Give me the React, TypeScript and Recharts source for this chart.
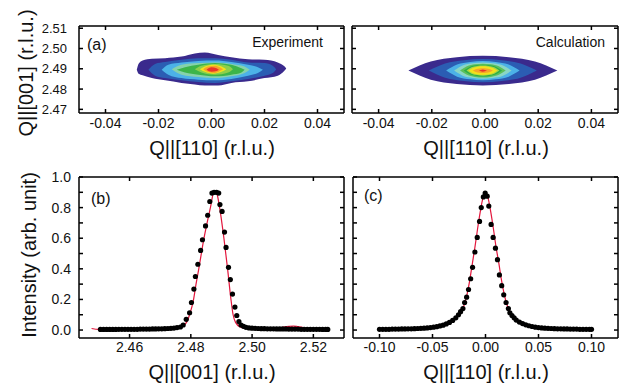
import React from "react";
import { ComposedChart, XAxis, YAxis, Area, Line, Scatter } from "recharts";

const FONT = "'Liberation Sans', Arial, Helvetica, sans-serif";
const RED = "#e3173d";

// ---- tick values ----
const MAP_Q_TICKS = [-0.04, -0.02, 0, 0.02, 0.04];
const MAP_Z_TICKS = [2.47, 2.48, 2.49, 2.5, 2.51];
const B_Q_TICKS = [2.46, 2.48, 2.5, 2.52];
const C_Q_TICKS = [-0.1, -0.05, 0, 0.05, 0.1];
const I_TICKS = [0, 0.1, 0.2, 0.3, 0.4, 0.5, 0.6, 0.7, 0.8, 0.9, 1.0];

// ---- contour levels, experiment: [q, zLow, zHigh] ----
const expL1 = [
  [-0.0282, 2.4895, 2.4895], [-0.0275, 2.4875, 2.4925], [-0.026, 2.4868, 2.4941],
  [-0.0225, 2.4854, 2.4949], [-0.0175, 2.4843, 2.4952], [-0.0113, 2.483, 2.496],
  [-0.0063, 2.4822, 2.4976], [-0.0025, 2.4817, 2.498], [0.0025, 2.4817, 2.4968],
  [0.0075, 2.483, 2.4957], [0.0138, 2.4838, 2.4947], [0.02, 2.4854, 2.4944],
  [0.025, 2.4866, 2.4931], [0.0275, 2.489, 2.4912], [0.0282, 2.4902, 2.4902],
];
const expL2 = [
  [-0.0238, 2.4895, 2.4895], [-0.0213, 2.4866, 2.4924], [-0.0175, 2.4854, 2.4933],
  [-0.0113, 2.4843, 2.4944], [-0.005, 2.4835, 2.4952], [0.0013, 2.483, 2.4952],
  [0.0075, 2.4838, 2.4944], [0.0138, 2.485, 2.4931], [0.02, 2.4866, 2.4928],
  [0.0231, 2.4879, 2.4915], [0.0244, 2.4897, 2.4897],
];
const expL3 = [
  [-0.0188, 2.4895, 2.4895], [-0.0163, 2.4871, 2.492], [-0.0113, 2.4854, 2.4931],
  [-0.005, 2.4846, 2.4939], [0.0013, 2.4843, 2.4941], [0.0075, 2.485, 2.4934],
  [0.0138, 2.4866, 2.492], [0.0175, 2.4879, 2.4908], [0.0194, 2.4895, 2.4895],
];
const expL4 = [
  [-0.015, 2.4898, 2.4898], [-0.0113, 2.4871, 2.492], [-0.005, 2.4859, 2.4928],
  [0.0013, 2.4854, 2.4931], [0.0075, 2.4863, 2.4924], [0.0125, 2.4879, 2.4911],
  [0.0144, 2.4895, 2.4895],
];
const expL5 = [
  [-0.0131, 2.4895, 2.4895], [-0.01, 2.4882, 2.4908], [-0.005, 2.4871, 2.492],
  [0.0013, 2.4863, 2.4928], [0.0075, 2.4871, 2.492], [0.0113, 2.4882, 2.4903],
  [0.0125, 2.4895, 2.4895],
];
const expL6 = [
  [-0.0063, 2.4898, 2.4898], [-0.0038, 2.4882, 2.4915], [0.0013, 2.4871, 2.4924],
  [0.0063, 2.4882, 2.4915], [0.0081, 2.4898, 2.4898],
];
const expL7 = [
  [-0.0044, 2.4898, 2.4898], [-0.0025, 2.4885, 2.4911], [0.0006, 2.4876, 2.492],
  [0.0038, 2.4885, 2.4911], [0.0056, 2.4898, 2.4898],
];
const expL8 = [
  [-0.0031, 2.4898, 2.4898], [-0.0013, 2.4884, 2.4911], [0.0013, 2.4879, 2.4915],
  [0.0031, 2.4889, 2.4908], [0.0044, 2.4898, 2.4898],
];
const expL9 = [
  [-0.0019, 2.4895, 2.4895], [0, 2.4885, 2.4907], [0.0019, 2.4889, 2.4903],
  [0.0028, 2.4895, 2.4895],
];

// ---- contour levels, calculation ----
const calcL1 = [
  [-0.0288, 2.4891, 2.4891], [-0.0204, 2.4846, 2.4936], [-0.0106, 2.4825, 2.4957],
  [-0.0008, 2.4818, 2.4964], [0.009, 2.4825, 2.4957], [0.0188, 2.4846, 2.4936],
  [0.0272, 2.4891, 2.4891],
];
const calcL2 = [
  [-0.0211, 2.4891, 2.4891], [-0.015, 2.4856, 2.4926], [-0.0079, 2.484, 2.4942],
  [-0.0008, 2.4834, 2.4948], [0.0063, 2.484, 2.4942], [0.0134, 2.4856, 2.4926],
  [0.0195, 2.4891, 2.4891],
];
const calcL3 = [
  [-0.0146, 2.4891, 2.4891], [-0.0105, 2.4861, 2.4921], [-0.0056, 2.4848, 2.4934],
  [-0.0008, 2.4843, 2.4939], [0.004, 2.4848, 2.4934], [0.0089, 2.4861, 2.4921],
  [0.013, 2.4891, 2.4891],
];
const calcL4 = [
  [-0.0116, 2.4891, 2.4891], [-0.0084, 2.4866, 2.4916], [-0.0046, 2.4855, 2.4927],
  [-0.0008, 2.4851, 2.4931], [0.003, 2.4855, 2.4927], [0.0068, 2.4866, 2.4916],
  [0.01, 2.4891, 2.4891],
];
const calcL5 = [
  [-0.0094, 2.4891, 2.4891], [-0.0068, 2.487, 2.4912], [-0.0038, 2.486, 2.4922],
  [-0.0008, 2.4857, 2.4925], [0.0022, 2.486, 2.4922], [0.0052, 2.487, 2.4912],
  [0.0078, 2.4891, 2.4891],
];
const calcL6 = [
  [-0.008, 2.4891, 2.4891], [-0.0058, 2.4873, 2.4909], [-0.0033, 2.4865, 2.4917],
  [-0.0008, 2.4862, 2.492], [0.0017, 2.4865, 2.4917], [0.0042, 2.4873, 2.4909],
  [0.0064, 2.4891, 2.4891],
];
const calcL7 = [
  [-0.007, 2.4891, 2.4891], [-0.0051, 2.4876, 2.4907], [-0.003, 2.4869, 2.4914],
  [-0.0008, 2.4866, 2.4916], [0.0014, 2.4869, 2.4914], [0.0035, 2.4876, 2.4907],
  [0.0054, 2.4891, 2.4891],
];
const calcL8 = [
  [-0.0062, 2.4891, 2.4891], [-0.0046, 2.4878, 2.4904], [-0.0027, 2.4872, 2.491],
  [-0.0008, 2.487, 2.4912], [0.0011, 2.4872, 2.491], [0.003, 2.4878, 2.4904],
  [0.0046, 2.4891, 2.4891],
];
const calcL9 = [
  [-0.0046, 2.4891, 2.4891], [-0.0035, 2.4884, 2.4898], [-0.0021, 2.488, 2.4902],
  [-0.0008, 2.4879, 2.4903], [0.0005, 2.488, 2.4902], [0.0019, 2.4884, 2.4898],
  [0.003, 2.4891, 2.4891],
];
const calcL10 = [
  [-0.0024, 2.4891, 2.4891], [-0.0016, 2.4888, 2.4894], [-0.0008, 2.4886, 2.4896],
  [0, 2.4888, 2.4894], [0.0008, 2.4891, 2.4891],
];

const EXP_LEVELS = [expL1, expL2, expL3, expL4, expL5, expL6, expL7, expL8, expL9];
const EXP_COLORS = ["#3a2a8d", "#2b5db3", "#4cb2e7", "#86d2ab", "#3cb54a", "#8dcf4a", "#f3e11b", "#f5a32a", "#e8362a"];
const CALC_LEVELS = [calcL1, calcL2, calcL3, calcL4, calcL5, calcL6, calcL7, calcL8, calcL9, calcL10];
const CALC_COLORS = ["#3a2a8d", "#2b5db3", "#4cb2e7", "#8ad6c4", "#5cc05a", "#2aae48", "#a6d544", "#f3e11b", "#f5a52a", "#e8362a"];

// ---- (b) line scan along [001]: [q, intensity] ----
const B_DOTS = [
  [2.4505, 0.004], [2.4515, 0.004], [2.4525, 0.004], [2.4535, 0.004], [2.4545, 0.004],
  [2.4555, 0.004], [2.4565, 0.005], [2.4575, 0.005], [2.4585, 0.005], [2.4595, 0.005],
  [2.4605, 0.005], [2.4615, 0.005], [2.4625, 0.005], [2.4635, 0.006], [2.4645, 0.006],
  [2.4655, 0.006], [2.4665, 0.006], [2.4675, 0.007], [2.4685, 0.007], [2.4695, 0.008],
  [2.4705, 0.008], [2.4715, 0.009], [2.4725, 0.01], [2.4735, 0.011], [2.4745, 0.013],
  [2.4755, 0.016], [2.4766, 0.02], [2.4775, 0.033], [2.4785, 0.07], [2.4796, 0.113],
  [2.4802, 0.18], [2.481, 0.268], [2.4815, 0.35], [2.4823, 0.43], [2.4832, 0.52],
  [2.4838, 0.59], [2.4848, 0.68], [2.4855, 0.75], [2.4862, 0.84], [2.4869, 0.895],
  [2.4876, 0.9], [2.4884, 0.9], [2.4891, 0.895], [2.4895, 0.82], [2.4902, 0.775],
  [2.491, 0.64], [2.4915, 0.54], [2.4923, 0.41], [2.4929, 0.33], [2.4936, 0.235],
  [2.4944, 0.15], [2.495, 0.095], [2.4957, 0.055], [2.4964, 0.033], [2.4972, 0.024],
  [2.498, 0.018], [2.499, 0.014], [2.5, 0.012], [2.501, 0.011], [2.502, 0.01],
  [2.503, 0.009], [2.504, 0.009], [2.505, 0.008], [2.506, 0.008], [2.507, 0.008],
  [2.508, 0.007], [2.509, 0.007], [2.51, 0.007], [2.511, 0.007], [2.512, 0.006],
  [2.513, 0.006], [2.514, 0.006], [2.515, 0.006], [2.516, 0.005], [2.517, 0.005],
  [2.518, 0.005], [2.519, 0.005], [2.52, 0.005], [2.521, 0.005], [2.522, 0.005],
  [2.523, 0.004], [2.524, 0.004], [2.5247, 0.004],
];
const B_FIT = [
  [2.4476, 0.01], [2.45, 0.004], [2.455, 0.002], [2.46, 0.003], [2.465, 0.004],
  [2.47, 0.006], [2.474, 0.01], [2.477, 0.022], [2.4786, 0.05], [2.4796, 0.1],
  [2.4809, 0.2], [2.4817, 0.3], [2.4826, 0.4], [2.4843, 0.6], [2.4864, 0.8],
  [2.4876, 0.905], [2.4885, 0.89], [2.4894, 0.8], [2.4908, 0.6], [2.492, 0.4],
  [2.4931, 0.2], [2.4938, 0.1], [2.4946, 0.05], [2.4961, 0.02], [2.498, 0.01],
  [2.502, 0.008], [2.506, 0.009], [2.509, 0.015], [2.512, 0.024], [2.5135, 0.026],
  [2.515, 0.022], [2.518, 0.012], [2.521, 0.007], [2.5254, 0.005],
];

// ---- (c) line scan along [110] ----
const C_DOTS = [
  [-0.1, 0.005], [-0.097, 0.005], [-0.094, 0.005], [-0.091, 0.005], [-0.088, 0.006],
  [-0.085, 0.006], [-0.082, 0.006], [-0.079, 0.007], [-0.076, 0.007], [-0.073, 0.008],
  [-0.07, 0.008], [-0.067, 0.009], [-0.064, 0.01], [-0.061, 0.011], [-0.058, 0.012],
  [-0.055, 0.014], [-0.052, 0.016], [-0.049, 0.019], [-0.046, 0.022], [-0.043, 0.027],
  [-0.04, 0.032], [-0.037, 0.04], [-0.034, 0.05], [-0.031, 0.063], [-0.028, 0.08],
  [-0.0255, 0.1], [-0.0235, 0.12], [-0.0213, 0.14], [-0.0197, 0.18], [-0.0178, 0.215],
  [-0.016, 0.265], [-0.014, 0.335], [-0.0122, 0.41], [-0.01, 0.51], [-0.0078, 0.605],
  [-0.0056, 0.71], [-0.004, 0.8], [-0.002, 0.87], [-0.0003, 0.895], [0.0016, 0.875],
  [0.0031, 0.81], [0.0053, 0.69], [0.0072, 0.605], [0.0094, 0.535], [0.0113, 0.46],
  [0.0131, 0.36], [0.0153, 0.29], [0.0172, 0.23], [0.0194, 0.18], [0.0216, 0.14],
  [0.023, 0.113], [0.025, 0.095], [0.027, 0.08], [0.029, 0.065], [0.032, 0.052],
  [0.035, 0.042], [0.038, 0.034], [0.041, 0.028], [0.044, 0.023], [0.047, 0.019],
  [0.05, 0.016], [0.053, 0.014], [0.056, 0.012], [0.059, 0.011], [0.062, 0.01],
  [0.065, 0.009], [0.068, 0.008], [0.071, 0.008], [0.074, 0.007], [0.077, 0.007],
  [0.08, 0.006], [0.083, 0.006], [0.086, 0.006], [0.089, 0.005], [0.092, 0.005],
  [0.095, 0.005], [0.098, 0.005], [0.1, 0.005],
];
const C_FIT = [
  [-0.1, 0.005], [-0.08, 0.008], [-0.06, 0.013], [-0.05, 0.02], [-0.04, 0.034],
  [-0.03, 0.068], [-0.025, 0.1], [-0.02, 0.165], [-0.0175, 0.23], [-0.015, 0.32],
  [-0.0125, 0.43], [-0.01, 0.54], [-0.0075, 0.66], [-0.005, 0.77], [-0.0025, 0.86],
  [0, 0.89], [0.0025, 0.86], [0.005, 0.77], [0.0075, 0.66], [0.01, 0.54],
  [0.0125, 0.44], [0.015, 0.33], [0.0175, 0.24], [0.02, 0.17], [0.025, 0.1],
  [0.03, 0.066], [0.04, 0.034], [0.05, 0.02], [0.06, 0.013], [0.08, 0.008],
  [0.1, 0.005],
];

const toRange = (pts: number[][]) => pts.map(([q, lo, hi]) => ({ q, z: [lo, hi] }));
const toXY = (pts: number[][]) => pts.map(([q, i]) => ({ q, i }));

const AX = { stroke: "#000", strokeWidth: 1.5 };
const blank = () => "";
const two = (v: number) => v.toFixed(2);
const one = (v: number) => (Math.round(v * 10) % 2 === 0 ? v.toFixed(1) : "");

type FrameOpts = {
  xDomain: [number, number];
  xTicks: number[];
  yDomain: [number, number];
  yTicks: number[];
  yKey?: string;
  yFmt: (v: number) => string;
  leftW: number;
  rightW: number;
  topH: number;
  bottomH: number;
  xMargin: number;
  yMargin: number;
  yFont: number;
};

function frame(o: FrameOpts) {
  const tick = { fill: "#111", fontSize: 14, fontFamily: FONT };
  return [
    <XAxis key="xb" xAxisId="b" orientation="bottom" type="number" dataKey="q"
      domain={o.xDomain} ticks={o.xTicks} allowDataOverflow interval={0}
      height={o.bottomH} tickSize={-4} tickMargin={o.xMargin} tickFormatter={two}
      axisLine={AX} tickLine={AX} tick={tick} />,
    <XAxis key="xt" xAxisId="t" orientation="top" type="number" dataKey="q"
      domain={o.xDomain} ticks={o.xTicks} allowDataOverflow interval={0}
      height={o.topH} tickSize={-4} tickFormatter={blank}
      axisLine={AX} tickLine={AX} tick={tick} />,
    <YAxis key="yl" yAxisId="l" orientation="left" type="number" dataKey={o.yKey}
      domain={o.yDomain} ticks={o.yTicks} allowDataOverflow interval={0}
      width={o.leftW} tickSize={-4} tickMargin={o.yMargin} tickFormatter={o.yFmt}
      axisLine={AX} tickLine={AX} tick={{ ...tick, fontSize: o.yFont }} />,
    <YAxis key="yr" yAxisId="r" orientation="right" type="number" dataKey={o.yKey}
      domain={o.yDomain} ticks={o.yTicks} allowDataOverflow interval={0}
      width={o.rightW} tickSize={-4} tickFormatter={blank}
      axisLine={AX} tickLine={AX} tick={tick} />,
  ];
}

const MAP_FRAME = {
  xDomain: [-0.05, 0.05] as [number, number],
  xTicks: MAP_Q_TICKS,
  yDomain: [2.4682, 2.5111] as [number, number],
  yTicks: MAP_Z_TICKS,
  topH: 26,
  bottomH: 27,
  xMargin: 9,
  yFont: 13,
};

const dot = (p: any) => <circle cx={p.cx} cy={p.cy} r={2.6} fill="#000" />;

function MapChart({ levels, colors, left, width, showY }: any) {
  return (
    <div style={{ position: "absolute", left, top: 0 }}>
      <ComposedChart width={width} height={140} margin={{ top: 0, right: 0, bottom: 0, left: 0 }}>
        {frame({
          ...MAP_FRAME,
          yFmt: showY ? two : blank,
          leftW: showY ? 79 : 6,
          rightW: showY ? 6 : 3,
          yMargin: 16,
        })}
        {levels.map((lv: number[][], k: number) => (
          <Area key={k} data={toRange(lv)} dataKey="z" xAxisId="b" yAxisId="l"
            type="monotone" fill={colors[k]} fillOpacity={1} stroke="none"
            isAnimationActive={false} />
        ))}
      </ComposedChart>
    </div>
  );
}

function ScanChart({ dots, fit, xDomain, xTicks, left, width, showY, fitOnTop }: any) {
  const line = (
    <Line key="fit" data={toXY(fit)} dataKey="i" xAxisId="b" yAxisId="l" type="monotone"
      stroke={RED} strokeWidth={1.2} dot={false} isAnimationActive={false} />
  );
  const pts = (
    <Scatter key="pts" data={toXY(dots)} dataKey="i" xAxisId="b" yAxisId="l"
      shape={dot} isAnimationActive={false} />
  );
  return (
    <div style={{ position: "absolute", left, top: 160 }}>
      <ComposedChart width={width} height={200} margin={{ top: 0, right: 0, bottom: 0, left: 0 }}>
        {frame({
          xDomain,
          xTicks,
          yDomain: [-0.052, 1.0],
          yTicks: I_TICKS,
          yKey: "i",
          yFmt: showY ? one : blank,
          leftW: showY ? 79 : 6,
          rightW: showY ? 6 : 3,
          topH: 17,
          bottomH: 22,
          xMargin: 8,
          yMargin: 12,
          yFont: 14,
        })}
        {fitOnTop ? [pts, line] : [line, pts]}
      </ComposedChart>
    </div>
  );
}

export default function App() {
  const title = { fontSize: 20, fill: "#111", fontFamily: FONT };
  return (
    <div style={{ position: "absolute", left: 0, top: 0, width: 621, height: 387, background: "#fff", fontFamily: FONT }}>
      <MapChart levels={EXP_LEVELS} colors={EXP_COLORS} left={0} width={350} showY />
      <MapChart levels={CALC_LEVELS} colors={CALC_COLORS} left={346} width={275} showY={false} />
      <ScanChart dots={B_DOTS} fit={B_FIT} xDomain={[2.4435, 2.53]} xTicks={B_Q_TICKS}
        left={0} width={350} showY fitOnTop={false} />
      <ScanChart dots={C_DOTS} fit={C_FIT} xDomain={[-0.125, 0.125]} xTicks={C_Q_TICKS}
        left={347} width={274} showY={false} fitOnTop />
      <svg width={621} height={387} style={{ position: "absolute", left: 0, top: 0, pointerEvents: "none" }}>
        <text x={212} y={155} textAnchor="middle" {...title}>Q||[110] (r.l.u.)</text>
        <text x={486} y={155} textAnchor="middle" {...title}>Q||[110] (r.l.u.)</text>
        <text x={212} y={379} textAnchor="middle" {...title}>Q||[001] (r.l.u.)</text>
        <text x={486} y={379} textAnchor="middle" {...title}>Q||[110] (r.l.u.)</text>
        <text transform="translate(33,73) rotate(-90)" textAnchor="middle" {...title}>Q||[001] (r.l.u.)</text>
        <text transform="translate(36,255) rotate(-90)" textAnchor="middle" {...title}>Intensity (arb. unit)</text>
        <text x={87} y={50} fontSize={16} fill="#111" fontFamily={FONT}>(a)</text>
        <text x={91} y={204} fontSize={16} fill="#111" fontFamily={FONT}>(b)</text>
        <text x={364} y={201} fontSize={16} fill="#111" fontFamily={FONT}>(c)</text>
        <text x={323} y={47} textAnchor="end" fontSize={14} fill="#111" fontFamily={FONT}>Experiment</text>
        <text x={605} y={47} textAnchor="end" fontSize={14} fill="#111" fontFamily={FONT}>Calculation</text>
      </svg>
    </div>
  );
}
